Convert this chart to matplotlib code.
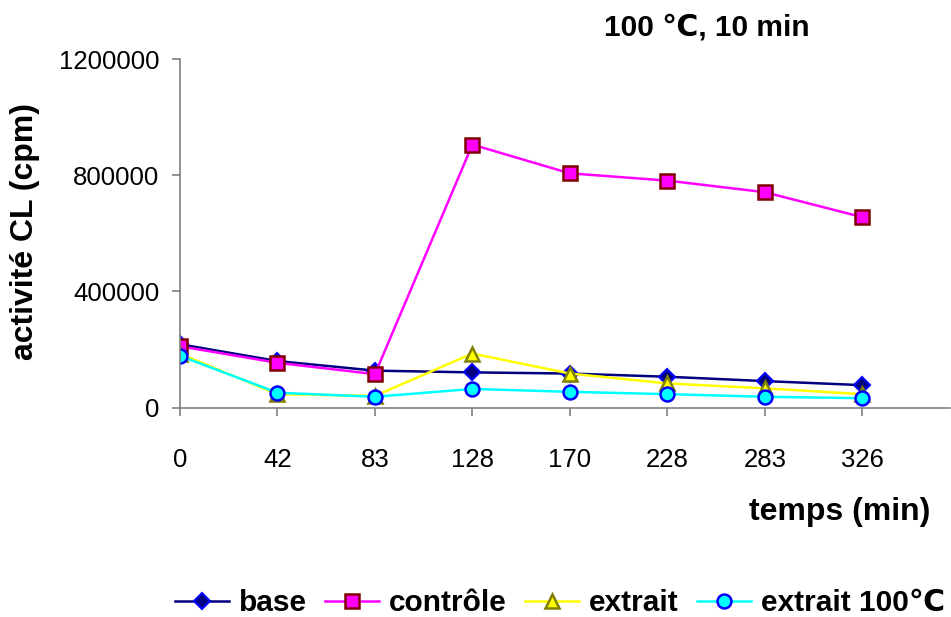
import matplotlib.pyplot as plt
import numpy as np

plt.rcParams['font.family'] = ['Liberation Sans', 'DejaVu Sans']

temps = ["0", "42", "83", "128", "170", "228", "283", "326"]
base = [218000, 160000, 127000, 121000, 117000, 106000, 91000, 77000]
controle = [211000, 154000, 115000, 906000, 807000, 782000, 742000, 656000]
extrait = [185000, 46000, 40000, 186000, 117000, 83000, 66000, 46000]
extrait_100 = [178000, 51000, 37000, 64000, 54000, 46000, 37000, 32000]

x = np.arange(len(temps))

fig = plt.figure(figsize=(9.51, 6.17), dpi=100)
ax = fig.add_axes([180 / 951, 1 - 407.5 / 617, 770 / 951, 348.2 / 617])

ax.plot(x, base, color="#000080", lw=1.8, marker="D", ms=8,
        mfc="#000080", mec="#0000FF", mew=1.5, label="base")
ax.plot(x, controle, color="#FF00FF", lw=1.8, marker="s", ms=10,
        mfc="#FF00FF", mec="#800000", mew=1.8, label="contrôle")
ax.plot(x, extrait, color="#FFFF00", lw=1.8, marker="^", ms=10,
        mfc="#FFFF00", mec="#808000", mew=1.8, label="extrait")
ax.plot(x, extrait_100, color="#00FFFF", lw=1.8, marker="o", ms=10,
        mfc="#00FFFF", mec="#0000FF", mew=1.8, label="extrait 100℃")

ax.set_xlim(0, 7.9)
ax.set_ylim(0, 1200000)
ax.set_xticks(x)
ax.set_xticklabels(temps)
ax.set_yticks([0, 400000, 800000, 1200000])
ax.set_yticklabels(["0", "400000", "800000", "1200000"])

for s in ["top", "right"]:
    ax.spines[s].set_visible(False)
for s in ["left", "bottom"]:
    ax.spines[s].set_color("#808080")
    ax.spines[s].set_linewidth(1.2)
ax.tick_params(axis="both", colors="#808080", labelcolor="black",
               labelsize=18.5, length=6, width=1.2)
ax.tick_params(axis="x", pad=23)
ax.tick_params(axis="y", pad=9)

fig.text(25 / 951, 1 - 232 / 617, "activité CL (cpm)", rotation=90,
         ha="center", va="center", fontsize=23, fontweight="bold")
fig.text(840 / 951, 1 - 512 / 617, "temps (min)", ha="center", va="center",
         fontsize=23, fontweight="bold")
fig.text(707 / 951, 1 - 28 / 617, "100 ℃, 10 min", ha="center", va="center",
         fontsize=21.5, fontweight="bold")

fig.legend(loc="center", bbox_to_anchor=(560 / 951, 1 - 603 / 617), ncol=4,
           frameon=False, prop={"size": 21.5, "weight": "bold"},
           handlelength=1.8, handletextpad=0.35, columnspacing=0.6,
           borderaxespad=0)

fig.savefig("out.png", dpi=100)
